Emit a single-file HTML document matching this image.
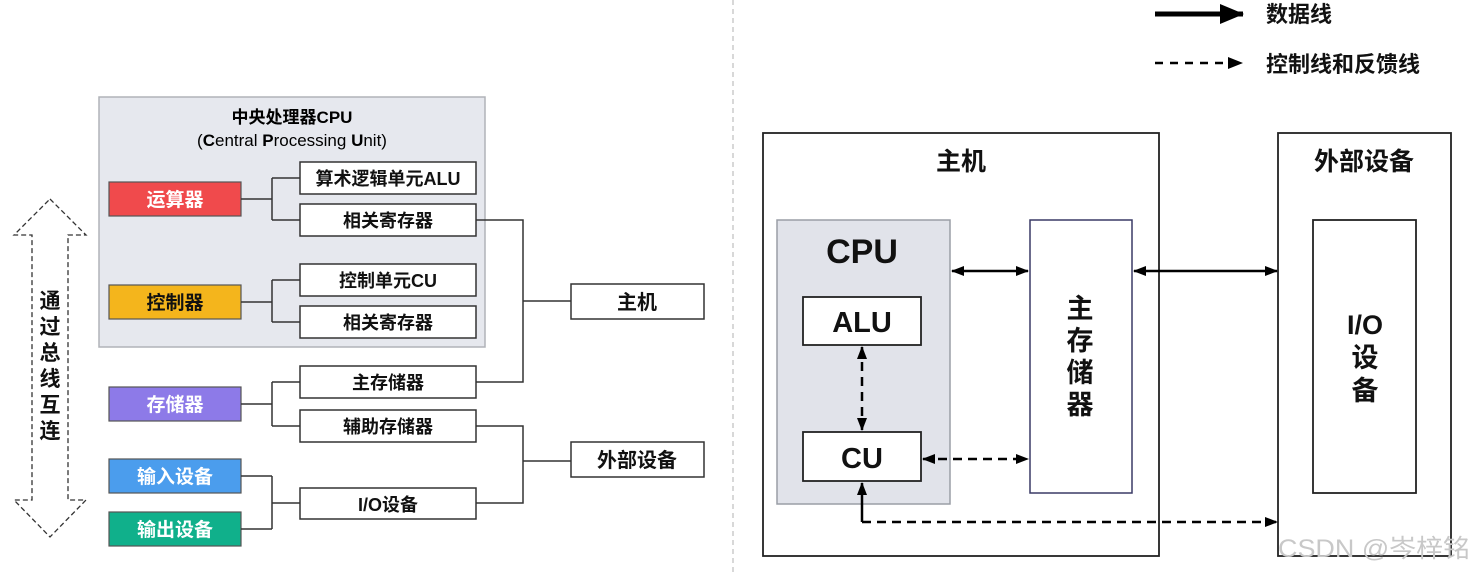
<!DOCTYPE html>
<html><head><meta charset="utf-8"><style>
html,body{margin:0;padding:0;background:#fff;}
svg{display:block;}
text{font-family:"Liberation Sans Narrow","Liberation Sans","Noto Sans CJK SC",sans-serif;font-weight:bold;}
</style></head><body>
<svg width="1473" height="573" viewBox="0 0 1473 573" xmlns="http://www.w3.org/2000/svg">
<defs>
<marker id="ah" markerWidth="13" markerHeight="10" refX="12" refY="5" orient="auto-start-reverse" markerUnits="userSpaceOnUse"><path d="M0,0 L13,5 L0,10 Z" fill="#000"/></marker>
<marker id="ahB" markerWidth="24" markerHeight="20" refX="23" refY="10" orient="auto" markerUnits="userSpaceOnUse"><path d="M0,0 L24,10 L0,20 Z" fill="#000"/></marker>
</defs>
<line x1="733" y1="0" x2="733" y2="573" stroke="#ccc" stroke-width="1.5" stroke-dasharray="5,4"/>

<rect x="99" y="97" width="386" height="250" fill="#e6e8ee" stroke="#b0b3b8" stroke-width="1.5"/>
<text x="292" y="123" font-size="17" text-anchor="middle">中央处理器CPU</text>
<text x="292" y="146" font-size="17" text-anchor="middle" style="font-weight:normal">(<tspan style="font-weight:bold">C</tspan>entral <tspan style="font-weight:bold">P</tspan>rocessing <tspan style="font-weight:bold">U</tspan>nit)</text>

<g stroke="#555" stroke-width="1.2">
<rect x="109" y="182" width="132" height="34" fill="#f04a4c"/>
<rect x="109" y="285" width="132" height="34" fill="#f4b51c"/>
<rect x="109" y="387" width="132" height="34" fill="#8d7ae8"/>
<rect x="109" y="459" width="132" height="34" fill="#4b9ded"/>
<rect x="109" y="512" width="132" height="34" fill="#10b08b"/>
</g>
<g font-size="19" text-anchor="middle">
<text x="175" y="206" fill="#fff">运算器</text>
<text x="175" y="309" fill="#111">控制器</text>
<text x="175" y="411" fill="#fff">存储器</text>
<text x="175" y="483" fill="#fff">输入设备</text>
<text x="175" y="536" fill="#fff">输出设备</text>
</g>
<g fill="#fff" stroke="#333" stroke-width="1.5">
<rect x="300" y="162" width="176" height="32"/>
<rect x="300" y="204" width="176" height="32"/>
<rect x="300" y="264" width="176" height="32"/>
<rect x="300" y="306" width="176" height="32"/>
<rect x="300" y="366" width="176" height="32"/>
<rect x="300" y="410" width="176" height="32"/>
<rect x="300" y="488" width="176" height="31"/>
<rect x="571" y="284" width="133" height="35"/>
<rect x="571" y="442" width="133" height="35"/>
</g>
<g font-size="18" text-anchor="middle" fill="#111">
<text x="388" y="185">算术逻辑单元ALU</text>
<text x="388" y="227">相关寄存器</text>
<text x="388" y="287">控制单元CU</text>
<text x="388" y="329">相关寄存器</text>
<text x="388" y="389">主存储器</text>
<text x="388" y="433">辅助存储器</text>
<text x="388" y="511">I/O设备</text>
<text x="637" y="309" font-size="20">主机</text>
<text x="637" y="467" font-size="20">外部设备</text>
</g>
<g stroke="#333" stroke-width="1.5" fill="none">
<path d="M241,199 H272 M272,178 V220 M272,178 H300 M272,220 H300"/>
<path d="M241,302 H272 M272,280 V322 M272,280 H300 M272,322 H300"/>
<path d="M241,404 H272 M272,382 V426 M272,382 H300 M272,426 H300"/>
<path d="M241,476 H272 M241,529 H272 M272,476 V529 M272,503 H300"/>
<path d="M476,220 H523 V382 H476 M523,301 H571"/>
<path d="M476,426 H523 V503 H476 M523,461 H571"/>
</g>
<path d="M50,199 L86,235 H68 V500 H86 L50,537 L14,500 H32 V235 H14 Z" fill="none" stroke="#333" stroke-width="1.3" stroke-dasharray="5,3"/>
<g font-size="21" text-anchor="middle" fill="#111">
<text x="50" y="308">通</text><text x="50" y="334">过</text><text x="50" y="360">总</text><text x="50" y="386">线</text><text x="50" y="412">互</text><text x="50" y="438">连</text>
</g>

<line x1="1155" y1="14" x2="1243" y2="14" stroke="#000" stroke-width="5" marker-end="url(#ahB)"/>
<text x="1266" y="22" font-size="22" fill="#111">数据线</text>
<line x1="1155" y1="63" x2="1230" y2="63" stroke="#000" stroke-width="2.5" stroke-dasharray="8,7"/>
<path d="M1228,57 L1243,63 L1228,69 Z" fill="#000"/>
<text x="1266" y="72" font-size="22" fill="#111">控制线和反馈线</text>

<rect x="763" y="133" width="396" height="423" fill="#fff" stroke="#222" stroke-width="1.8"/>
<rect x="1278" y="133" width="173" height="423" fill="#fff" stroke="#222" stroke-width="1.8"/>
<text x="961" y="170" font-size="25" text-anchor="middle" fill="#111">主机</text>
<text x="1364" y="170" font-size="25" text-anchor="middle" fill="#111">外部设备</text>
<rect x="777" y="220" width="173" height="284" fill="#e1e3ea" stroke="#9a9ea6" stroke-width="1.5"/>
<text x="862" y="263" font-size="34" text-anchor="middle" fill="#111">CPU</text>
<rect x="803" y="297" width="118" height="48" fill="#fff" stroke="#222" stroke-width="1.8"/>
<rect x="803" y="432" width="118" height="49" fill="#fff" stroke="#222" stroke-width="1.8"/>
<text x="862" y="332" font-size="29" text-anchor="middle" fill="#111">ALU</text>
<text x="862" y="468" font-size="29" text-anchor="middle" fill="#111">CU</text>
<rect x="1030" y="220" width="102" height="273" fill="#fff" stroke="#3a3a66" stroke-width="1.5"/>
<g font-size="27" text-anchor="middle" fill="#111">
<text x="1080" y="318">主</text><text x="1080" y="350">存</text><text x="1080" y="382">储</text><text x="1080" y="414">器</text>
</g>
<rect x="1313" y="220" width="103" height="273" fill="#fff" stroke="#222" stroke-width="1.8"/>
<g font-size="27" text-anchor="middle" fill="#111">
<text x="1365" y="334">I/O</text><text x="1365" y="367">设</text><text x="1365" y="400">备</text>
</g>
<g stroke="#000" stroke-width="2.5">
<line x1="952" y1="271" x2="1028" y2="271" marker-start="url(#ah)" marker-end="url(#ah)"/>
<line x1="1134" y1="271" x2="1277" y2="271" marker-start="url(#ah)" marker-end="url(#ah)"/>
<line x1="862" y1="347" x2="862" y2="430" stroke-dasharray="9,6" marker-start="url(#ah)" marker-end="url(#ah)"/>
<line x1="923" y1="459" x2="1028" y2="459" stroke-dasharray="9,6" marker-start="url(#ah)" marker-end="url(#ah)"/>
<line x1="862" y1="522" x2="862" y2="483" marker-end="url(#ah)"/>
<line x1="862" y1="522" x2="1277" y2="522" stroke-dasharray="9,6" marker-end="url(#ah)"/>
</g>
<text x="1278" y="557" font-size="25" fill="#c8c8c8" textLength="192" lengthAdjust="spacingAndGlyphs" style="font-weight:normal;font-family:'Liberation Sans','Noto Sans CJK SC',sans-serif">CSDN @岑梓铭</text>
</svg>
</body></html>
